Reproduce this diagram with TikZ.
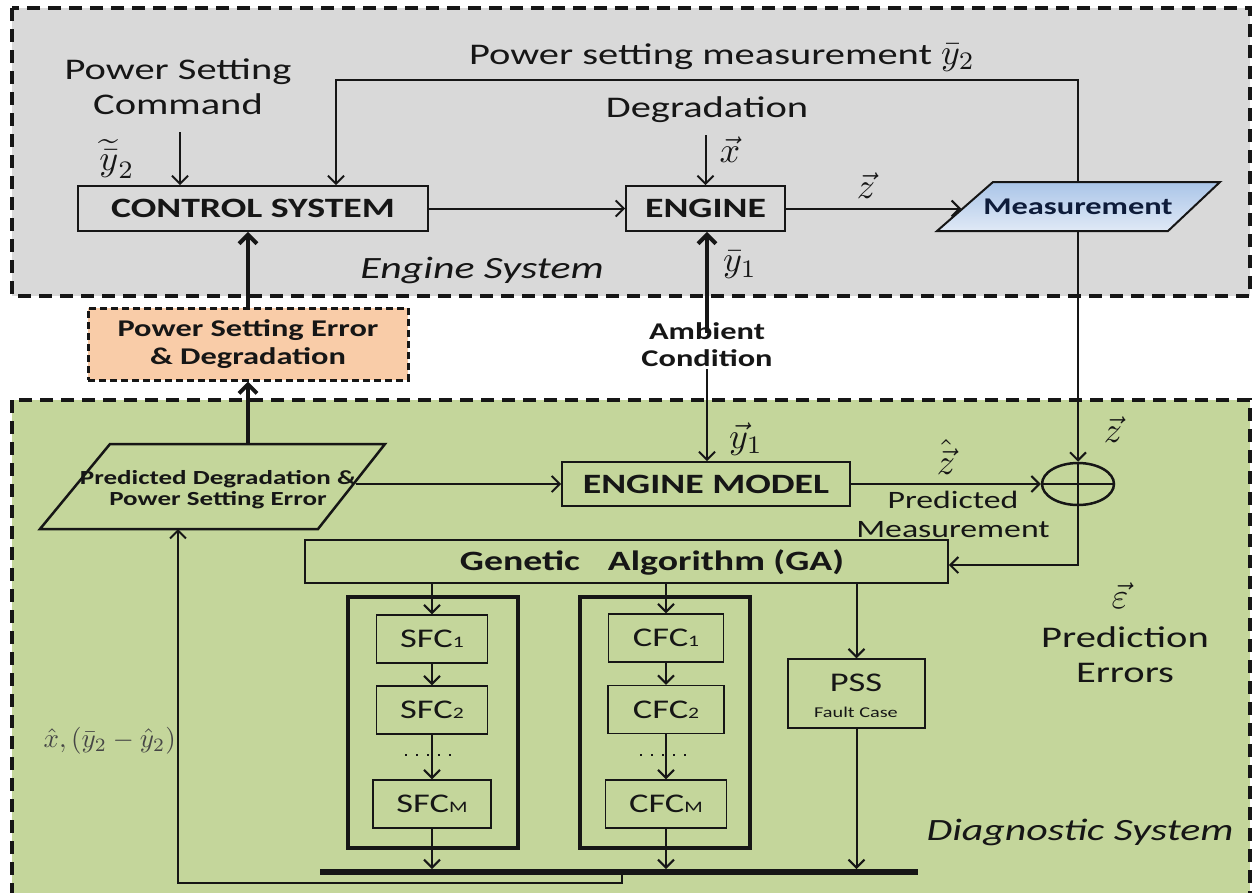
\documentclass[tikz,border=0pt]{standalone}
\usepackage{graphicx}
\usepackage{fontspec}
\setmainfont[FakeStretch=1.35]{Carlito}
\usetikzlibrary{arrows.meta,shapes.geometric}
\definecolor{gbg}{RGB}{217,217,217}
\definecolor{diagg}{RGB}{196,214,155}
\definecolor{peach}{RGB}{249,204,168}
\definecolor{mtop}{RGB}{170,197,232}
\definecolor{mbot}{RGB}{224,233,246}
\definecolor{ink}{RGB}{22,22,22}
\definecolor{navy}{RGB}{14,28,58}
\newcommand\fsz[2]{\fontsize{#1}{#2}\selectfont}
\newcommand\mth[1]{{\fsz{10}{12}\scalebox{3.6}{$#1$}}}
\begin{document}
\begin{tikzpicture}[x=1pt,y=-1pt,
  box/.style={draw=ink, line width=1.8pt, inner sep=0pt, align=center, text=ink},
  fcbox/.style={draw=ink, line width=1.4pt, inner sep=0pt, minimum height=48pt, font=\fsz{27}{30}, text=ink},
  bigtxt/.style={font=\fsz{30}{35}, text=ink, align=center, inner sep=2pt},
  mlab/.style={text=ink, inner sep=0pt},
  arr/.style={-{Straight Barb[length=8pt,width=16pt]}, line width=2pt, draw=ink},
  tarr/.style={-{Straight Barb[length=9pt,width=18pt]}, line width=4pt, draw=ink},
  region/.style={line width=3.5pt, dash pattern=on 13pt off 8pt, draw=ink}]
\fill[white] (0,0) rectangle (1257,892);
\useasboundingbox (0,0) rectangle (1257,892);
% regions
\draw[region, fill=gbg] (12,8) rectangle (1250,296);
\draw[region, fill=diagg] (12,400) rectangle (1250,915);

% ---------- Engine system ----------
\node[box, minimum width=350pt, minimum height=45pt, font=\fsz{28}{32}\bfseries] (ctrl) at (253,208.5) {CONTROL SYSTEM};
\node[box, minimum width=159pt, minimum height=45pt, font=\fsz{28}{32}\bfseries] (eng) at (705.5,208.5) {ENGINE};

\coordinate (mtl) at (993,182);
\coordinate (mtr) at (1220,182);
\coordinate (mbr) at (1168,231);
\coordinate (mbl) at (937,231);
\draw[draw=ink, line width=2pt, top color=mtop, bottom color=mbot] (mtl) -- (mtr) -- (mbr) -- (mbl) -- cycle;
\node[inner sep=0pt, minimum width=120pt, minimum height=49pt, font=\fsz{24}{28}\bfseries, text=navy] (meas) at (1078,206.5) {Measurement};
\coordinate (min) at (961,208.5);

\node[bigtxt] (cmd) at (178,87) {Power Setting\\Command};
\coordinate (cmdA) at (180,132);
\draw[arr] (cmdA) -- (cmdA |- ctrl.north);
\node[mlab] (ytil) at (117,159) {\mth{\widetilde{\bar{y}}_2}};

\node[bigtxt, anchor=base] (psm) at (722,64) {Power setting measurement \mth{\bar{y}_2}};
\coordinate (pm1) at (1078,80);
\coordinate (pm2) at (336,80);
\draw[arr] (meas.north) -- (pm1) -- (pm2) -- (pm2 |- ctrl.north);

\node[bigtxt] (deg) at (707,110) {Degradation};
\coordinate (degA) at (705.5,135);
\draw[arr] (degA) -- (degA |- eng.north);
\node[mlab] (xl) at (730,150) {\mth{\vec{x}}};

\draw[arr] (ctrl) -- (eng);
\draw[arr] (eng) -- (min);
\node[mlab] (zl) at (866,186) {\mth{\vec{z}}};

\node[bigtxt, font=\fsz{31}{35}\itshape] (es) at (482,270) {Engine System};

% ---------- between ----------
\node[draw=ink, fill=peach, line width=3pt, dash pattern=on 7pt off 4pt, minimum width=320pt, minimum height=72pt, align=center, inner sep=0pt, font=\fsz{24}{28}\bfseries, text=ink] (pse) at (248,344) {Power Setting Error\\\& Degradation};

\node[font=\fsz{24}{27}\bfseries, align=center, text=ink, inner sep=2pt] (amb) at (707,345) {Ambient\\Condition};
\draw[tarr, shorten <=-12pt] (amb.north) -- (amb.north |- eng.south);
\node[mlab] (y1a) at (740,265) {\mth{\bar{y}_1}};

% ---------- Diagnostic system ----------
\node[box, minimum width=288pt, minimum height=44pt, font=\fsz{28}{32}\bfseries] (em) at (706,484) {ENGINE MODEL};
\draw[arr] (amb.south) -- (amb.south |- em.north);
\node[mlab] (y1b) at (746,439) {\mth{\vec{y}_1}};

\coordinate (ptl) at (110,444);
\coordinate (ptr) at (385,444);
\coordinate (pbr) at (318,529);
\coordinate (pbl) at (40,529);
\draw[draw=ink, line width=2.5pt] (ptl) -- (ptr) -- (pbr) -- (pbl) -- cycle;
\node[font=\fsz{20}{21}\bfseries, align=center, text=ink, inner sep=0pt] (pred) at (218,490) {Predicted Degradation \&\\Power Setting Error};
\coordinate (predtop) at (248,444);
\coordinate (predR) at (356,484);
\coordinate (predbot) at (178,529);

\draw[tarr] (predtop) -- (pse.south);
\draw[tarr] (pse.north) -- (pse.north |- ctrl.south);
\draw[arr] (predR) -- (predR -| em.west);

\node[draw=ink, line width=2.5pt, ellipse, minimum width=72pt, minimum height=42pt, inner sep=0pt] (sum) at (1078,484) {};
\draw[line width=2.5pt, draw=ink] (sum.north) -- (sum.south);
\draw[line width=2.5pt, draw=ink] (sum.west) -- (sum.east);
\draw[arr] (em.east) -- (sum.west);
\node[mlab] (zhat) at (946,457) {\mth{\hat{\vec{z}}}};
\node[font=\fsz{25}{29}, align=center, text=ink, inner sep=0pt] (pmeas) at (953,514) {Predicted\\Measurement};

\draw[arr] (meas.south) -- (sum.north);
\node[mlab] (zl2) at (1113,430) {\mth{\vec{z}}};

\node[box, minimum width=643pt, minimum height=43pt] (ga) at (626.5,561.5) {};
\node[font=\fsz{28}{32}\bfseries, text=ink, inner sep=0pt] (gat) at (652,562) {Genetic\quad Algorithm (GA)};
\coordinate (gac) at (1078,565);
\draw[arr] (sum.south) -- (gac) -- (gac -| ga.east);

\node[mlab] (eps) at (1120,596) {\mth{\vec{\varepsilon}}};
\node[bigtxt] (perr) at (1125,655) {Prediction\\Errors};

% SFC / CFC columns
\node[draw=ink, line width=4pt, minimum width=170pt, minimum height=251pt, inner sep=0pt] (sfcbox) at (433,722.5) {};
\node[draw=ink, line width=4pt, minimum width=170pt, minimum height=251pt, inner sep=0pt] (cfcbox) at (665,722.5) {};

\node[fcbox, minimum width=111pt] (s1) at (432,639) {SFC{\fsz{16}{16}1}};
\node[fcbox, minimum width=111pt] (s2) at (432,710) {SFC{\fsz{16}{16}2}};
\node[fcbox, minimum width=118pt] (sM) at (432,804) {SFC{\fsz{16}{16}M}};
\node[fcbox, minimum width=115pt] (c1) at (666,638) {CFC{\fsz{16}{16}1}};
\node[fcbox, minimum width=116pt] (c2) at (666,709.5) {CFC{\fsz{16}{16}2}};
\node[fcbox, minimum width=121pt] (cM) at (666,804) {CFC{\fsz{16}{16}M}};

\node[box, line width=1.4pt, minimum width=137pt, minimum height=69pt] (pss) at (856.5,693.5) {};
\node[font=\fsz{27}{28}, text=ink, inner sep=0pt] (psst) at (856,683) {PSS};
\node[font=\fsz{15}{16}, text=ink, inner sep=0pt] (fct) at (856,712) {Fault Case};

\coordinate (busL) at (320,872);
\coordinate (busR) at (918,872);
\draw[line width=6pt, draw=ink] (busL) -- (busR);

\draw[arr] (ga.south -| s1.north) -- (s1.north);
\draw[arr] (s1) -- (s2);
\draw[arr] (s2) -- (sM);
\draw[arr, shorten >=3pt] (sM.south) -- (sM.south |- busL);
\draw[arr] (ga.south -| c1.north) -- (c1.north);
\draw[arr] (c1) -- (c2);
\draw[arr] (c2) -- (cM);
\draw[arr, shorten >=3pt] (cM.south) -- (cM.south |- busL);
\draw[arr] (ga.south -| pss.north) -- (pss.north);
\draw[arr, shorten >=3pt] (pss.south) -- (pss.south |- busL);

\draw[draw=ink, line width=2pt, dash pattern=on 2pt off 9pt] (405,755) -- (452,755);
\draw[draw=ink, line width=2pt, dash pattern=on 2pt off 9pt] (640,755) -- (687,755);

\coordinate (fb1) at (622,872);
\coordinate (fb2) at (622,883);
\coordinate (fb3) at (178,883);
\draw[arr] (fb1) -- (fb2) -- (fb3) -- (predbot);
\node[text=ink!80, anchor=east, inner sep=1pt] (fbl) at (177,741) {{\fsz{10}{12}\scalebox{2.7}{$\hat{x},(\bar{y}_2-\hat{y}_2)$}}};

\node[bigtxt, font=\fsz{31}{35}\itshape] (ds) at (1080,832) {Diagnostic System};
\end{tikzpicture}
\end{document}
